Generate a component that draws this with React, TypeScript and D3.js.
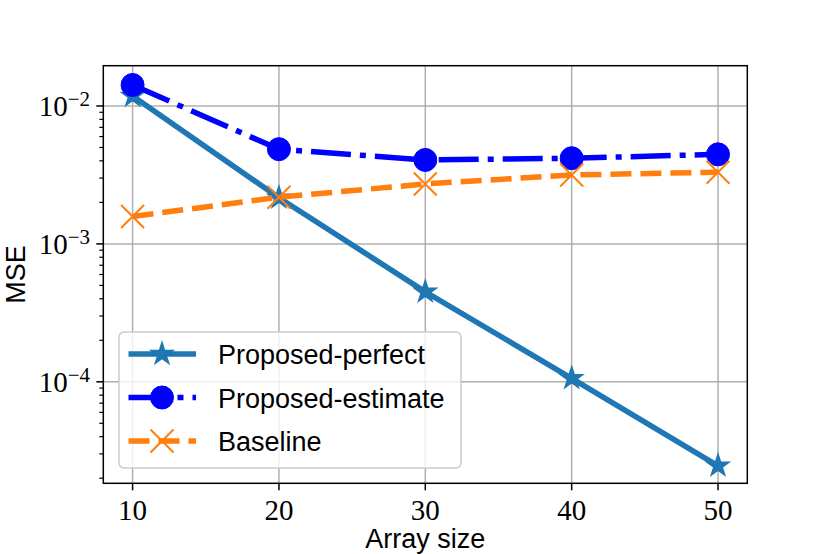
import * as d3 from "d3";
import React from "react";

// values (log y axis)
const arraySizes = [10, 20, 30, 40, 50];
const perfectMse = [0.0118, 0.00216, 0.000449, 0.000106, 0.0000246];
const estimateMse = [0.0142, 0.00486, 0.00406, 0.00418, 0.00446];
const baselineMse = [0.00158, 0.00218, 0.00272, 0.00316, 0.00331];

const xTicks = [10, 20, 30, 40, 50];
const yTickExponents = [-2, -3, -4];
const legendLabels = ["Proposed-perfect", "Proposed-estimate", "Baseline"];

const W = 830;
const H = 554;
const left = 103.3;
const right = 747.3;
const top = 65.7;
const bottom = 483.3;

const serif = "'Liberation Serif', 'DejaVu Serif', serif";
const sans = "'Liberation Sans', Arial, sans-serif";

const series = [
  { label: legendLabels[0], values: perfectMse, color: "#1f77b4", dash: null, marker: "star" },
  { label: legendLabels[1], values: estimateMse, color: "#0000ff", dash: "40,9,6,9", marker: "circle" },
  { label: legendLabels[2], values: baselineMse, color: "#ff7f0e", dash: "21,9", marker: "x" },
];

const starPath = d3.symbol(d3.symbolStar, (11.5 * 11.5) / 0.8908130915292852)();

function Marker({ kind, color, cx, cy }) {
  if (kind === "star") {
    return <path d={starPath} transform={`translate(${cx},${cy})`} fill={color} stroke={color} strokeWidth={1.5} strokeLinejoin="miter" />;
  }
  if (kind === "circle") {
    return <circle cx={cx} cy={cy} r={11.5} fill={color} stroke={color} strokeWidth={1} />;
  }
  const s = 11.5;
  return (
    <path
      d={`M${cx - s},${cy - s}L${cx + s},${cy + s}M${cx - s},${cy + s}L${cx + s},${cy - s}`}
      stroke={color}
      strokeWidth={2}
      fill="none"
    />
  );
}

export default function App() {
  const x = d3.scaleLinear().domain([8, 52]).range([left, right]);
  const y = d3.scaleLog().domain([Math.pow(10, -4.736), Math.pow(10, -1.708)]).range([bottom, top]);

  const line = d3
    .line<number>()
    .x((_, i) => x(arraySizes[i]))
    .y((d) => y(d));

  const [ylo, yhi] = y.domain();
  const minorTicks: number[] = [];
  for (let e = -5; e <= -1; e++) {
    for (let m = 2; m <= 9; m++) {
      const v = m * Math.pow(10, e);
      if (v >= ylo && v <= yhi) minorTicks.push(v);
    }
  }

  const legX = 119;
  const legY = 332;
  const rowY = [354, 397.5, 441];

  return (
    <svg width={W} height={H} style={{ position: "absolute", left: 0, top: 0 }}>
      <rect width={W} height={H} fill="#fff" />

      {/* grid */}
      <g stroke="#b0b0b0" strokeWidth={1.5}>
        {xTicks.map((t) => (
          <line key={`gx${t}`} x1={x(t)} x2={x(t)} y1={top} y2={bottom} />
        ))}
        {yTickExponents.map((e) => (
          <line key={`gy${e}`} x1={left} x2={right} y1={y(Math.pow(10, e))} y2={y(Math.pow(10, e))} />
        ))}
      </g>

      {/* series */}
      {series.map((s) => (
        <g key={s.label}>
          <path d={line(s.values)} fill="none" stroke={s.color} strokeWidth={5.5} strokeDasharray={s.dash || undefined} />
          {s.values.map((v, i) => (
            <Marker key={i} kind={s.marker} color={s.color} cx={x(arraySizes[i])} cy={y(v)} />
          ))}
        </g>
      ))}

      {/* frame */}
      <rect x={left} y={top} width={right - left} height={bottom - top} fill="none" stroke="#000" strokeWidth={1.5} />

      {/* x axis */}
      {xTicks.map((t) => (
        <g key={`xt${t}`}>
          <line x1={x(t)} x2={x(t)} y1={bottom} y2={bottom + 7} stroke="#000" strokeWidth={1.5} />
          <text x={x(t)} y={520} textAnchor="middle" fontFamily={serif} fontSize={29}>
            {t}
          </text>
        </g>
      ))}
      <text x={(left + right) / 2} y={548} textAnchor="middle" fontFamily={sans} fontSize={27}>
        Array size
      </text>

      {/* y axis */}
      {minorTicks.map((v, i) => (
        <line key={`ym${i}`} x1={left - 4} x2={left} y1={y(v)} y2={y(v)} stroke="#000" strokeWidth={1.2} />
      ))}
      {yTickExponents.map((e) => {
        const yy = y(Math.pow(10, e));
        return (
          <g key={`yt${e}`}>
            <line x1={left - 7} x2={left} y1={yy} y2={yy} stroke="#000" strokeWidth={1.5} />
            <text x={90} y={yy + 10.5} textAnchor="end" fontFamily={serif} fontSize={29}>
              10
              <tspan fontSize={21} dy={-10}>
                {"\u2212" + Math.abs(e)}
              </tspan>
            </text>
          </g>
        );
      })}
      <text transform={`translate(25,${(top + bottom) / 2}) rotate(-90)`} textAnchor="middle" fontFamily={sans} fontSize={27}>
        MSE
      </text>

      {/* legend */}
      <rect x={legX} y={legY} width={342} height={136} rx={5} fill="#fff" fillOpacity={0.8} stroke="#cccccc" strokeWidth={1.5} />
      {series.map((s, i) => (
        <g key={`lg${i}`}>
          <line x1={128.5} x2={196} y1={rowY[i]} y2={rowY[i]} stroke={s.color} strokeWidth={5.5} strokeDasharray={s.dash || undefined} />
          <Marker kind={s.marker} color={s.color} cx={162} cy={rowY[i]} />
          <text x={218} y={rowY[i] + 10} fontFamily={sans} fontSize={27}>
            {s.label}
          </text>
        </g>
      ))}
    </svg>
  );
}
